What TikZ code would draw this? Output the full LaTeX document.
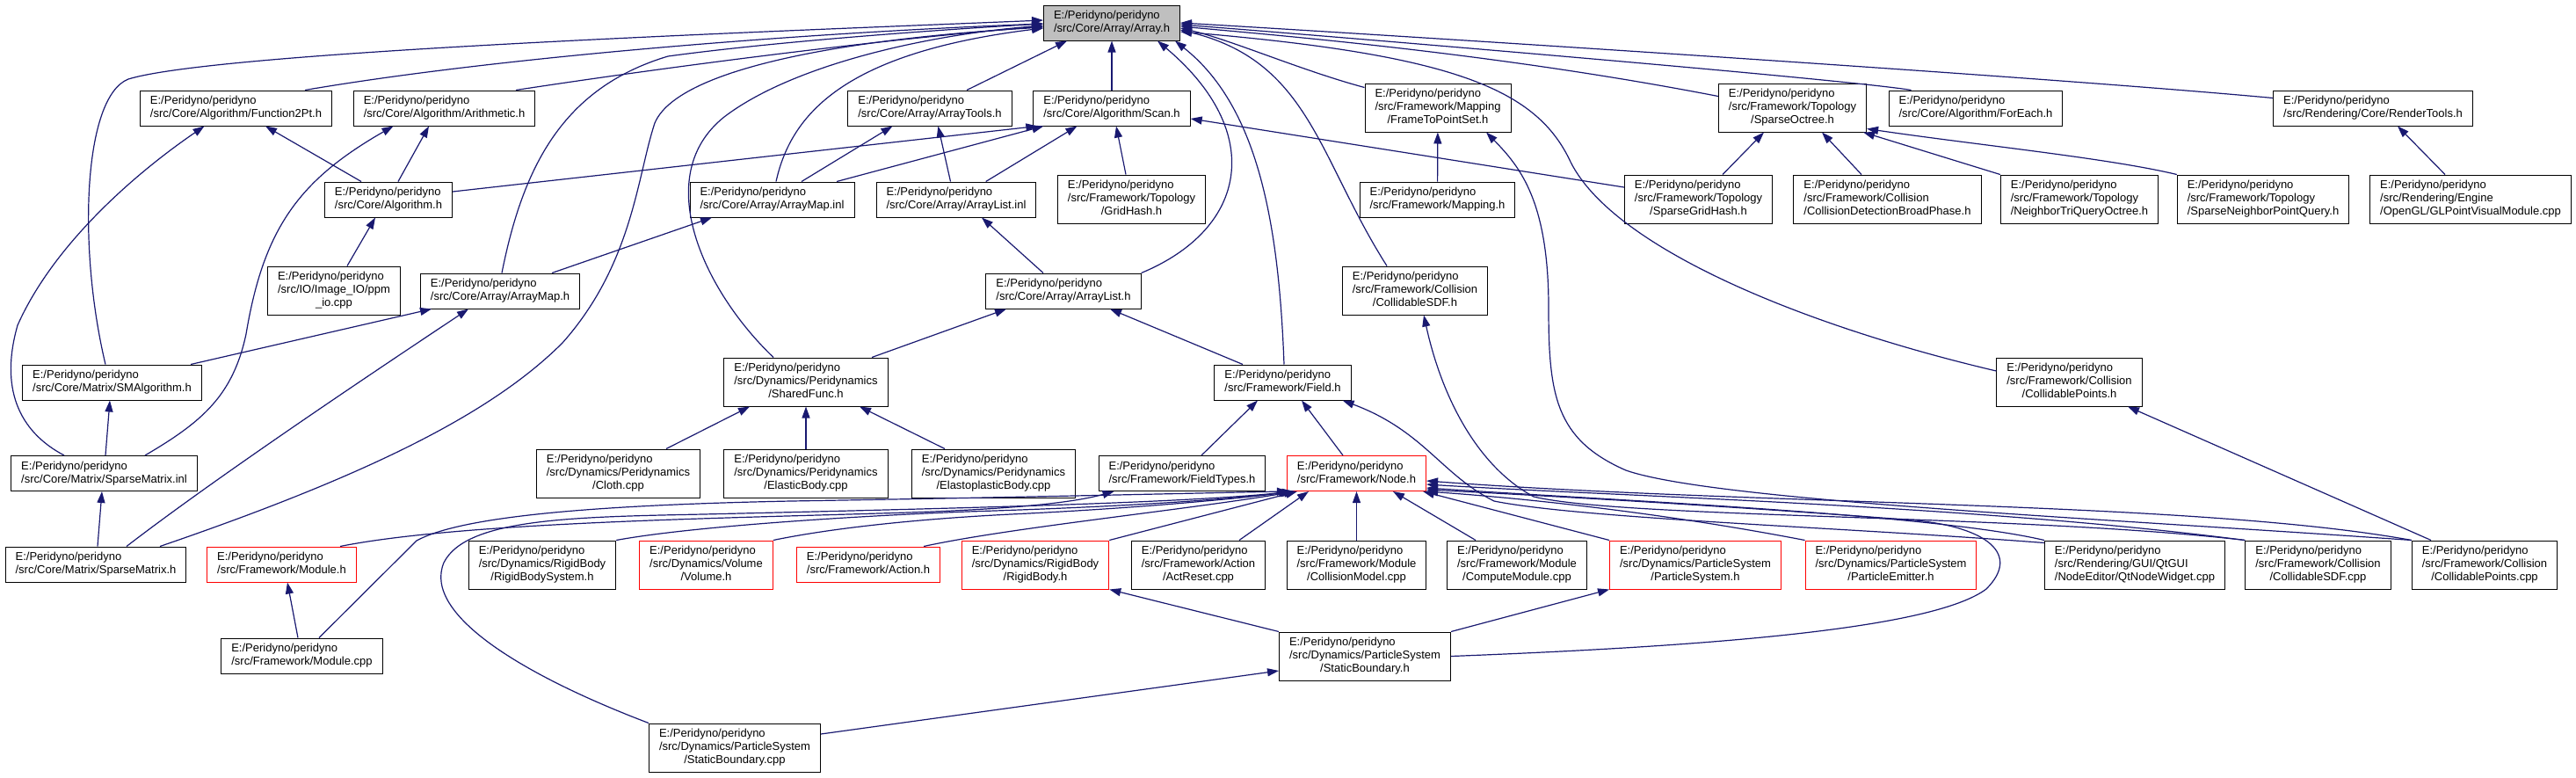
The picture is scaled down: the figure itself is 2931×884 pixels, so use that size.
\documentclass[tikz,border=0pt]{standalone}
\usepackage{fontspec}
\setmainfont{Liberation Sans}
\usetikzlibrary{arrows.meta}
\definecolor{depblue}{HTML}{191970}
\newcommand{\two}[1]{\begin{tabular}{@{}l@{}}E:/Peridyno/peridyno\\#1\end{tabular}}
\newcommand{\three}[2]{\begin{tabular}{@{}l@{}}E:/Peridyno/peridyno\\#1\\\multicolumn{1}{@{}c@{}}{#2}\end{tabular}}
\begin{document}
\begin{tikzpicture}[x=1pt,y=-1pt,
  file/.style={draw=black,fill=white,line width=1pt,inner xsep=11.5pt,inner ysep=5pt,font=\fontsize{13}{15}\selectfont},
  redfile/.style={file,draw=red},
  dep/.style={draw=depblue,line width=1.2pt,-{Triangle[length=13pt,width=9pt]}}]
\useasboundingbox (0,0) rectangle (2931,884);

\node[file,fill=black!25] (arr) at (1265,26) {\two{/src/Core/Array/Array.h}};

\node[file] (f2pt) at (268.5,123) {\two{/src/Core/Algorithm/Function2Pt.h}};
\node[file] (arith) at (505.5,123) {\two{/src/Core/Algorithm/Arithmetic.h}};
\node[file] (atools) at (1058,123) {\two{/src/Core/Array/ArrayTools.h}};
\node[file] (scan) at (1265,123) {\two{/src/Core/Algorithm/Scan.h}};
\node[file] (ftps) at (1636,122.5) {\three{/src/Framework/Mapping}{/FrameToPointSet.h}};
\node[file] (soct) at (2039.5,122.5) {\three{/src/Framework/Topology}{/SparseOctree.h}};
\node[file] (feach) at (2248,123) {\two{/src/Core/Algorithm/ForEach.h}};
\node[file] (rtools) at (2700,123) {\two{/src/Rendering/Core/RenderTools.h}};

\node[file] (algo) at (442,227) {\two{/src/Core/Algorithm.h}};
\node[file] (amapinl) at (878.5,227) {\two{/src/Core/Array/ArrayMap.inl}};
\node[file] (alistinl) at (1088,227) {\two{/src/Core/Array/ArrayList.inl}};
\node[file] (ghash) at (1287.5,226.5) {\three{/src/Framework/Topology}{/GridHash.h}};
\node[file] (mapping) at (1635.5,227) {\two{/src/Framework/Mapping.h}};
\node[file] (sghash) at (1932.5,226.5) {\three{/src/Framework/Topology}{/SparseGridHash.h}};
\node[file] (cdbp) at (2147.5,226.5) {\three{/src/Framework/Collision}{/CollisionDetectionBroadPhase.h}};
\node[file] (ntqo) at (2366,226.5) {\three{/src/Framework/Topology}{/NeighborTriQueryOctree.h}};
\node[file] (snpq) at (2575,226.5) {\three{/src/Framework/Topology}{/SparseNeighborPointQuery.h}};
\node[file] (glpvm) at (2811,226.5) {\three{/src/Rendering/Engine}{/OpenGL/GLPointVisualModule.cpp}};

\node[file] (ppmio) at (380,330.5) {\three{/src/IO/Image\_IO/ppm}{\_io.cpp}};
\node[file] (amaph) at (569,331) {\two{/src/Core/Array/ArrayMap.h}};
\node[file] (alisth) at (1210,331) {\two{/src/Core/Array/ArrayList.h}};
\node[file] (csdfh) at (1610,330.5) {\three{/src/Framework/Collision}{/CollidableSDF.h}};

\node[file] (smalgo) at (127.5,435) {\two{/src/Core/Matrix/SMAlgorithm.h}};
\node[file] (sfunc) at (917,434.5) {\three{/src/Dynamics/Peridynamics}{/SharedFunc.h}};
\node[file] (field) at (1459.5,435) {\two{/src/Framework/Field.h}};
\node[file] (cptsh) at (2354.5,434.5) {\three{/src/Framework/Collision}{/CollidablePoints.h}};

\node[file] (spinl) at (118.5,538.5) {\two{/src/Core/Matrix/SparseMatrix.inl}};
\node[file] (cloth) at (703.5,538.5) {\three{/src/Dynamics/Peridynamics}{/Cloth.cpp}};
\node[file] (elastic) at (917,538.5) {\three{/src/Dynamics/Peridynamics}{/ElasticBody.cpp}};
\node[file] (eplastic) at (1130.5,538.5) {\three{/src/Dynamics/Peridynamics}{/ElastoplasticBody.cpp}};
\node[file] (ftypes) at (1345,538.5) {\two{/src/Framework/FieldTypes.h}};
\node[redfile] (nodeh) at (1543.5,538.5) {\two{/src/Framework/Node.h}};

\node[file] (spmath) at (109,642) {\two{/src/Core/Matrix/SparseMatrix.h}};
\node[redfile] (moduleh) at (320.5,642) {\two{/src/Framework/Module.h}};
\node[file] (rbsys) at (617,642.5) {\three{/src/Dynamics/RigidBody}{/RigidBodySystem.h}};
\node[redfile] (volume) at (803.5,642.5) {\three{/src/Dynamics/Volume}{/Volume.h}};
\node[redfile] (action) at (988,642) {\two{/src/Framework/Action.h}};
\node[redfile] (rbody) at (1178,642.5) {\three{/src/Dynamics/RigidBody}{/RigidBody.h}};
\node[file] (actreset) at (1363.5,642.5) {\three{/src/Framework/Action}{/ActReset.cpp}};
\node[file] (cmodel) at (1543.5,642.5) {\three{/src/Framework/Module}{/CollisionModel.cpp}};
\node[file] (cmodule) at (1726,642.5) {\three{/src/Framework/Module}{/ComputeModule.cpp}};
\node[redfile] (psys) at (1929,642.5) {\three{/src/Dynamics/ParticleSystem}{/ParticleSystem.h}};
\node[redfile] (pemit) at (2151.5,642.5) {\three{/src/Dynamics/ParticleSystem}{/ParticleEmitter.h}};
\node[file] (qtnw) at (2429,642.5) {\three{/src/Rendering/GUI/QtGUI}{/NodeEditor/QtNodeWidget.cpp}};
\node[file] (csdfcpp) at (2637.5,642.5) {\three{/src/Framework/Collision}{/CollidableSDF.cpp}};
\node[file] (cptscpp) at (2827,642.5) {\three{/src/Framework/Collision}{/CollidablePoints.cpp}};

\node[file] (modcpp) at (343.5,746) {\two{/src/Framework/Module.cpp}};
\node[file] (sbh) at (1553,746.5) {\three{/src/Dynamics/ParticleSystem}{/StaticBoundary.h}};

\node[file] (sbcpp) at (836,850.5) {\three{/src/Dynamics/ParticleSystem}{/StaticBoundary.cpp}};

\draw[dep] ([xshift=78.5pt]f2pt.north) .. controls (560,66) and (900,38) .. ([yshift=-1pt]arr.west);
\draw[dep] ([xshift=81.5pt]arith.north) .. controls (760,76) and (1000,45) .. ([yshift=-4pt]arr.west);
\draw[dep] ([xshift=-7.5pt]smalgo.north) .. controls (88,280) and (95,110) .. (146,90) .. controls (250,58) and (900,35) .. ([yshift=3pt]arr.west);
\draw[dep] ([xshift=2pt]amaph.north) .. controls (595,190) and (640,100) .. (760,64) .. controls (900,45) and (1100,32) .. ([yshift=-1pt]arr.west);
\draw[dep] ([xshift=73pt]spmath.north) .. controls (420,540) and (560,470) .. (640,390) .. controls (720,300) and (725,200) .. (745,140) .. controls (770,80) and (950,45) .. ([yshift=-5pt]arr.west);
\draw[dep] ([xshift=4.5pt]amapinl.north) .. controls (900,130) and (960,60) .. ([yshift=-6pt]arr.west);
\draw[dep] ([xshift=-37pt]sfunc.north) .. controls (800,330) and (740,200) .. (824,133) .. controls (900,75) and (1050,40) .. ([yshift=-3pt]arr.west);
\draw[dep] ([xshift=42pt]atools.north) -- ([xshift=-51pt]arr.south);
\draw[dep] (scan) -- (arr);
\draw[dep] (alisth.north east) .. controls (1420,260) and (1440,150) .. ([xshift=52pt]arr.south);
\draw[dep] ([xshift=1.5pt]field.north) .. controls (1455,250) and (1430,120) .. ([xshift=-6pt]arr.south east);
\draw[dep] ([yshift=-5pt]ftps.north west) .. controls (1480,80) and (1400,45) .. ([yshift=-6pt]arr.east);
\draw[dep] ([yshift=-15pt]soct.north west) .. controls (1700,60) and (1450,40) .. ([yshift=-4pt]arr.east);
\draw[dep] ([xshift=26pt]feach.north west) .. controls (2100,90) and (1500,40) .. ([yshift=-2pt]arr.east);
\draw[dep] ([yshift=-9pt]rtools.north west) .. controls (2300,85) and (1500,35) .. (arr.east);
\draw[dep] ([xshift=-32pt]csdfh.north) .. controls (1500,180) and (1490,70) .. ([yshift=-8pt]arr.east);
\draw[dep] ([yshift=12.5pt]cptsh.west) .. controls (2050,370) and (1830,280) .. (1785,180) .. controls (1745,100) and (1650,62) .. ([yshift=-10pt]arr.east);

\draw[dep] ([xshift=-31pt]algo.north) -- ([xshift=33.5pt]f2pt.south);
\draw[dep] ([xshift=11pt]algo.north) -- ([xshift=-17.5pt]arith.south);
\draw[dep] ([yshift=9pt]algo.east) -- ([xshift=5pt]scan.south west);
\draw[dep] ([xshift=15pt]ppmio.north) -- ([xshift=-15pt]algo.south);
\draw[dep] ([xshift=59pt]amaph.north) -- ([xshift=-68.5pt]amapinl.south);
\draw[dep] ([xshift=89.5pt]smalgo.north) -- ([xshift=-78pt]amaph.south);
\draw[dep] ([xshift=1.5pt]spinl.north) -- ([xshift=-2.5pt]smalgo.south);
\draw[dep] ([xshift=-45.5pt]spinl.north) .. controls (20,490) and (0,440) .. (20,370) .. controls (60,280) and (150,200) .. ([xshift=-36pt]f2pt.south);
\draw[dep] ([xshift=46.5pt]spinl.north) .. controls (230,480) and (265,450) .. (280,380) .. controls (300,260) and (340,205) .. ([xshift=-58pt]arith.south);
\draw[dep] ([xshift=2pt]spmath.north) -- ([xshift=-2.5pt]spinl.south);
\draw[dep] ([xshift=35pt]spmath.north) .. controls (250,540) and (430,420) .. ([xshift=-36pt]amaph.south);

\draw[dep] ([xshift=33.5pt]amapinl.north) -- ([xshift=-42.5pt]atools.south);
\draw[dep] ([xshift=73.5pt]amapinl.north) -- ([xshift=12pt]scan.south west);
\draw[dep] ([xshift=-6.5pt]alistinl.north) -- ([xshift=9.4pt]atools.south);
\draw[dep] ([xshift=33.7pt]alistinl.north) -- ([xshift=-39.5pt]scan.south);
\draw[dep] ([xshift=-6.5pt]ghash.north) -- ([xshift=5pt]scan.south);
\draw[dep] ([xshift=-23pt]alisth.north) -- ([xshift=29pt]alistinl.south);
\draw[dep] ([xshift=75pt]sfunc.north) -- ([xshift=-65pt]alisth.south);
\draw[dep] ([xshift=-45.5pt]field.north) -- ([xshift=53pt]alisth.south);
\draw[dep] ([yshift=13.5pt]sghash.west) -- ([yshift=-12pt]scan.east);
\draw[dep] ([xshift=27.5pt]sghash.north) -- ([xshift=-32.5pt]soct.south);
\draw[dep] ([xshift=-29.5pt]cdbp.north) -- ([xshift=33.5pt]soct.south);
\draw[dep] (ntqo.north west) -- ([xshift=-4pt]soct.south east);
\draw[dep] (snpq.north west) .. controls (2400,180) and (2250,165) .. ([yshift=4pt]soct.south east);
\draw[dep] (mapping) -- (ftps);
\draw[dep] ([xshift=-29pt]glpvm.north) -- ([xshift=28pt]rtools.south);
\draw[dep] ([xshift=54.5pt]cloth.north) -- ([xshift=-64pt]sfunc.south);
\draw[dep] (elastic) -- (sfunc);
\draw[dep] ([xshift=-55.5pt]eplastic.north) -- ([xshift=61pt]sfunc.south);

\draw[dep] ([xshift=-4.5pt]modcpp.north) -- ([xshift=6.5pt]moduleh.south);
\draw[dep] ([xshift=66.5pt]moduleh.north) .. controls (520,595) and (800,590) .. (1000,584) .. controls (1150,580) and (1220,572) .. ([xshift=18pt]ftypes.south west);
\draw[dep] ([xshift=19.5pt]modcpp.north) -- (474,615) .. controls (520,590) and (650,575) .. (900,570) .. controls (1200,565) and (1400,560) .. ([xshift=2pt]nodeh.south west);
\draw[dep] (sbcpp.north west) .. controls (600,770) and (480,700) .. (505,640) .. controls (530,590) and (650,588) .. (800,585) .. controls (1100,578) and (1350,572) .. ([xshift=8pt]nodeh.south west);
\draw[dep] (rbsys.north east) .. controls (780,600) and (950,588) .. (1100,582) .. controls (1300,576) and (1420,566) .. ([xshift=4pt]nodeh.south west);
\draw[dep] (volume.north east) .. controls (950,600) and (1050,590) .. (1150,585) .. controls (1300,578) and (1420,566) .. ([xshift=6pt]nodeh.south west);
\draw[dep] ([xshift=63pt]action.north) .. controls (1150,600) and (1350,580) .. ([xshift=10pt]nodeh.south west);
\draw[dep] (rbody.north east) -- ([xshift=12pt]nodeh.south west);
\draw[dep] ([xshift=46.5pt]actreset.north) -- ([xshift=25pt]nodeh.south west);
\draw[dep] (cmodel) -- (nodeh);
\draw[dep] ([xshift=-47pt]cmodule.north) -- ([xshift=41.5pt]nodeh.south);
\draw[dep] (psys.north west) -- ([xshift=-4pt]nodeh.south east);
\draw[dep] (pemit.north west) .. controls (1900,585) and (1750,568) .. (nodeh.south east);
\draw[dep] (qtnw.north west) .. controls (2200,585) and (1850,570) .. ([yshift=4pt]nodeh.south east);
\draw[dep] (csdfcpp.north west) .. controls (2250,575) and (1850,565) .. ([yshift=8pt]nodeh.south east);
\draw[dep] (cptscpp.north west) .. controls (2500,570) and (2000,575) .. ([yshift=12pt]nodeh.south east);
\draw[dep] (sbh.east) .. controls (1950,735) and (2200,715) .. (2260,670) .. controls (2300,630) and (2260,600) .. (2180,592) .. controls (2000,578) and (1800,566) .. ([yshift=2pt]nodeh.south east);
\draw[dep] (sbh.north west) -- (rbody.south east);
\draw[dep] (sbh.north east) -- (psys.south west);
\draw[dep] ([yshift=15.5pt]sbcpp.east) -- ([yshift=-16.5pt]sbh.west);
\draw[dep] ([xshift=-15.5pt]nodeh.north) -- ([xshift=21.5pt]field.south);
\draw[dep] ([xshift=22pt]ftypes.north) -- ([xshift=-28.5pt]field.south);
\draw[dep] ([yshift=-3pt]qtnw.north west) .. controls (2100,600) and (1800,590) .. (1700,570) .. controls (1640,540) and (1620,490) .. ([xshift=-10pt]field.south east);
\draw[dep] (csdfcpp.north west) .. controls (2300,585) and (1850,590) .. (1745,565) .. controls (1680,530) and (1640,450) .. ([xshift=10pt]csdfh.south);
\draw[dep] (cptscpp.north west) .. controls (2400,590) and (1950,570) .. (1850,535) .. controls (1770,500) and (1762,450) .. (1762,350) .. controls (1762,230) and (1730,190) .. ([xshift=55pt]ftps.south);
\draw[dep] ([xshift=-61pt]cptscpp.north) -- ([xshift=66.5pt]cptsh.south);
\end{tikzpicture}
\end{document}
